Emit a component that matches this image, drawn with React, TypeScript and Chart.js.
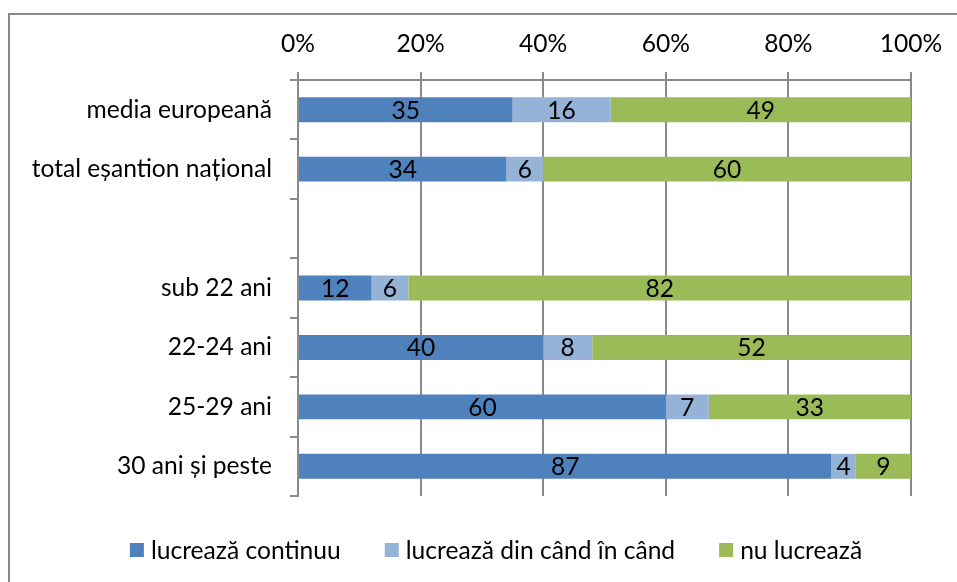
import React, { useEffect, useRef } from "react";
import { Chart, registerables } from "chart.js";

Chart.register(...registerables);

const categories = [
  "media europeană",
  "total eșantion național",
  "",
  "sub 22 ani",
  "22-24 ani",
  "25-29 ani",
  "30 ani și peste",
];
const seriesNames = ["lucrează continuu", "lucrează din când în când", "nu lucrează"];
const continuu = [35, 34, null, 12, 40, 60, 87];
const dinCand = [16, 6, null, 6, 8, 7, 4];
const nuLucreaza = [49, 60, null, 82, 52, 33, 9];
const xTicks = [0, 20, 40, 60, 80, 100];

const COLORS = ["#4F81BD", "#95B3D7", "#9BBB59"];
const FONT = "Lato, 'Open Sans', sans-serif";
const FS = 24.6;
const GRID = "#8a8a8a";

const labelPlugin = {
  id: "barLabels",
  afterDatasetsDraw(chart: any) {
    const ctx = chart.ctx;
    ctx.save();
    ctx.font = `${FS}px ${FONT}`;
    ctx.fillStyle = "#000";
    ctx.textAlign = "center";
    ctx.textBaseline = "middle";
    chart.data.datasets.forEach((ds: any, di: number) => {
      const meta = chart.getDatasetMeta(di);
      meta.data.forEach((el: any, i: number) => {
        const v = ds.data[i];
        if (v === null || v === undefined) return;
        const { x, base, y } = el.getProps(["x", "base", "y"], true);
        ctx.fillText(String(v), (x + base) / 2, y + 1);
      });
    });
    ctx.restore();
  },
};

const legendPlugin = {
  id: "customLegend",
  afterDraw(chart: any) {
    const ctx = chart.ctx;
    ctx.save();
    ctx.font = `${FS}px ${FONT}`;
    const box = 14;
    const gapBoxText = 7;
    const gapItems = 44;
    const widths = seriesNames.map((n) => ctx.measureText(n).width);
    const total =
      widths.reduce((a, b) => a + b, 0) +
      seriesNames.length * (box + gapBoxText) +
      gapItems * (seriesNames.length - 1);
    let x = 496 - total / 2;
    const cy = 550;
    ctx.textBaseline = "middle";
    ctx.textAlign = "left";
    seriesNames.forEach((n, i) => {
      ctx.fillStyle = COLORS[i];
      ctx.fillRect(x, cy - box / 2, box, box);
      x += box + gapBoxText;
      ctx.fillStyle = "#000";
      ctx.fillText(n, x, cy + 1);
      x += widths[i] + gapItems;
    });
    ctx.restore();
  },
};

export default function App() {
  const ref = useRef<HTMLCanvasElement>(null);
  useEffect(() => {
    if (!ref.current) return;
    const chart = new Chart(ref.current, {
      type: "bar",
      data: {
        labels: categories,
        datasets: [continuu, dinCand, nuLucreaza].map((d, i) => ({
          label: seriesNames[i],
          data: d,
          backgroundColor: COLORS[i],
          borderWidth: 0,
          barPercentage: 0.42,
          categoryPercentage: 1,
        })),
      },
      options: {
        indexAxis: "y",
        animation: false,
        responsive: false,
        maintainAspectRatio: false,
        layout: { padding: { top: 0, right: 46, bottom: 86, left: 0 } },
        plugins: { legend: { display: false }, tooltip: { enabled: false } },
        scales: {
          x: {
            position: "top",
            stacked: true,
            min: 0,
            max: 100,
            afterFit: (s: any) => {
              s.height = 80;
            },
            afterBuildTicks: (s: any) => {
              s.ticks = xTicks.map((v) => ({ value: v }));
            },
            ticks: {
              callback: (v: any) => `${v}%`,
              font: { family: FONT, size: FS },
              color: "#000",
              padding: 13,
              maxRotation: 0,
            },
            grid: { color: GRID, lineWidth: 2, tickLength: 8, drawTicks: true },
            border: { color: GRID, width: 2 },
          },
          y: {
            stacked: true,
            afterFit: (s: any) => {
              s.width = 298;
            },
            ticks: {
              font: { family: FONT, size: FS },
              color: "#000",
              padding: 18,
              autoSkip: false,
            },
            grid: {
              drawOnChartArea: false,
              drawTicks: true,
              tickLength: 8,
              color: GRID,
              lineWidth: 2,
              offset: true,
            },
            border: { color: GRID, width: 2 },
          },
        },
      },
      plugins: [labelPlugin, legendPlugin],
    });
    return () => chart.destroy();
  }, []);

  return (
    <div style={{ position: "fixed", left: 0, top: 0, width: 957, height: 582, background: "#fff", overflow: "hidden" }}>
      <div
        style={{
          position: "absolute",
          left: 8,
          top: 13,
          width: 1000,
          height: 700,
          border: "2px solid #8a8a8a",
          boxSizing: "border-box",
        }}
      />
      <canvas ref={ref} width={957} height={582} style={{ position: "absolute", left: 0, top: 0, width: 957, height: 582 }} />
    </div>
  );
}
